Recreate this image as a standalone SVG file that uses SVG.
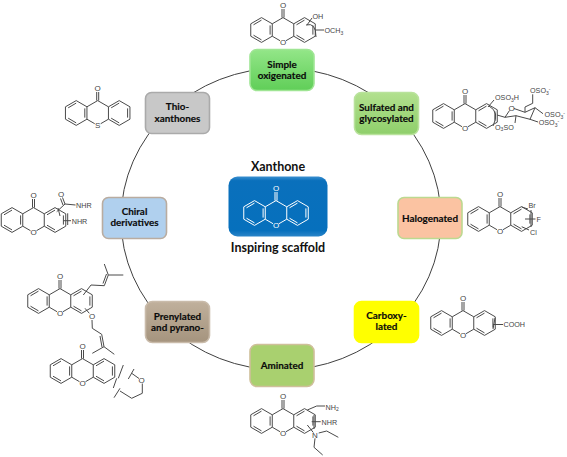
<svg xmlns="http://www.w3.org/2000/svg" width="567" height="457" viewBox="0 0 567 457">
<style>
.lbl{font-family:Lato,"Liberation Sans",sans-serif;font-weight:700;font-size:9.9px;fill:#0a0a0a;stroke:#0a0a0a;stroke-width:.15;text-anchor:middle}
.ttl{font-family:Lato,"Liberation Sans",sans-serif;font-weight:700;font-size:12.5px;fill:#111;text-anchor:middle}
.chem{font-family:"Liberation Sans",Arial,sans-serif;font-size:7.2px;fill:#444}
.atom{font-family:"Liberation Sans",Arial,sans-serif;font-size:8px;fill:#444;text-anchor:middle}
.b{fill:none;stroke:#4a4a4a;stroke-width:1}
.node{stroke-width:1.6}
</style>
<defs>
<linearGradient id="gSimple" x1="0" y1="0" x2="0" y2="1"><stop offset="0" stop-color="#93e688"/><stop offset="1" stop-color="#60ce58"/></linearGradient>
<linearGradient id="gSulf" x1="0" y1="0" x2="0" y2="1"><stop offset="0" stop-color="#b2e08e"/><stop offset="1" stop-color="#8fcf6b"/></linearGradient>
<linearGradient id="gPren" x1="0" y1="0" x2="0" y2="1"><stop offset="0" stop-color="#c0b09c"/><stop offset="1" stop-color="#a5947e"/></linearGradient>
<linearGradient id="gMain" x1="0" y1="0" x2="0" y2="1"><stop offset="0" stop-color="#3a8fd0"/><stop offset=".07" stop-color="#0a70bc"/><stop offset=".9" stop-color="#0670bd"/><stop offset="1" stop-color="#2a84c8"/></linearGradient>
<path id="xan" d="M-21.5-12.4L-10.75-6.2L-10.75 6.2L-21.5 12.4L-32.25 6.2L-32.25-6.2ZM21.5-12.4L10.75-6.2L10.75 6.2L21.5 12.4L32.25 6.2L32.25-6.2ZM-10.75-6.2L0-12.4L10.75-6.2M-10.75 6.2L-3 10.7M10.75 6.2L3 10.7M-1-12.4V-21M1-12.4V-21M-21.5-9.9L-29.5-5.2M-12.9-4.6V4.6M-21.5 9.9L-29.5 5.2M21.5-9.9L13.5-5.2M29.9-4.6V4.6M21.5 9.9L13.5 5.2"/>
</defs>
<g id="connectors"><ellipse cx="281" cy="219" rx="160" ry="151" fill="none" stroke="#404040" stroke-width="1"/></g>

<g id="xanthone-center">
<text class="ttl" x="278" y="171">Xanthone</text>
<rect x="228.500" y="176.500" width="99" height="60" rx="9" fill="url(#gMain)"/>
<use href="#xan" x="276" y="213" style="stroke:#fff;fill:none;stroke-width:1"/>
<text x="276" y="228" text-anchor="middle" font-family="Liberation Sans,sans-serif" font-size="8" fill="#fff">O</text>
<text x="276" y="190.500" text-anchor="middle" font-family="Liberation Sans,sans-serif" font-size="8" fill="#fff">O</text>
<text class="ttl" x="278" y="252">Inspiring scaffold</text>
</g>

<g id="simple">
<rect class="node" x="250" y="49.500" width="64" height="41" rx="7" fill="url(#gSimple)" stroke="#9fe594"/>
<text class="lbl" x="282" y="68">Simple</text><text class="lbl" x="282" y="79">oxigenated</text>
<use href="#xan" class="b" x="283" y="30"/>
<text class="atom" x="283" y="45">O</text><text class="atom" x="283" y="8">O</text>
<path class="b" d="M307 25L312 18M306 25Q316 22 316 37M315 30H324"/>
<text class="chem" x="312.500" y="19">OH</text>
<text class="chem" x="324.500" y="33">OCH<tspan font-size="5" dy="1.500">3</tspan></text>
</g>

<g id="sulfated">
<rect class="node" x="354.500" y="92.500" width="64" height="42" rx="7" fill="url(#gSulf)" stroke="#b9e29c"/>
<text class="lbl" x="386.500" y="111">Sulfated and</text><text class="lbl" x="386.500" y="122">glycosylated</text>
<use href="#xan" class="b" x="465" y="116"/>
<text class="atom" x="465" y="131">O</text><text class="atom" x="465" y="94">O</text>
<path class="b" d="M488 107L494 100M489 106Q500 112 493 126M497 115L505 117.300L509.500 110.500M514 108.500L525 112.300L535 107.700L530 119.300L516 115.700L505 117.300M525 112.300V107L532.700 103.300V94.300M535 107.700L543 113.700M530 119.300L538 122M516 115.700L515 123"/>
<text class="atom" x="511.700" y="110.800">O</text>
<text class="chem" x="495" y="100">OSO<tspan font-size="5" dy="1.500">3</tspan><tspan dy="-1.500">H</tspan></text>
<text class="chem" x="530" y="93">OSO<tspan font-size="5" dy="1.500">3</tspan><tspan font-size="5" dy="-3.500">-</tspan></text>
<text class="chem" x="544.500" y="117">OSO<tspan font-size="5" dy="1.500">3</tspan><tspan font-size="5" dy="-3.500">-</tspan></text>
<text class="chem" x="538.700" y="125">OSO<tspan font-size="5" dy="1.500">3</tspan><tspan font-size="5" dy="-3.500">-</tspan></text>
<text class="chem" x="495" y="129.500">O<tspan font-size="5" dy="1.500">3</tspan><tspan dy="-1.500">SO</tspan></text>
</g>

<g id="halogenated">
<rect class="node" x="398" y="197.500" width="64" height="41" rx="6" fill="#fbc3a2" stroke="#bcd990"/>
<text class="lbl" x="430" y="221.500">Halogenated</text>
<use href="#xan" class="b" x="500" y="219"/>
<text class="atom" x="500" y="234">O</text><text class="atom" x="500" y="197">O</text>
<path class="b" d="M521.700 207L528 209M521.700 226.700L529 230M531 210V227M525 219H535.500"/>
<text class="chem" x="528.500" y="208">Br</text>
<text class="chem" x="536.500" y="221.500">F</text>
<text class="chem" x="530" y="234.500">Cl</text>
</g>

<g id="carboxylated">
<rect class="node" x="354.500" y="301.500" width="64" height="41" rx="7" fill="#ffff00" stroke="#ffff00"/>
<text class="lbl" x="386.500" y="319">Carboxy-</text><text class="lbl" x="386.500" y="330">lated</text>
<use href="#xan" class="b" x="463" y="323"/>
<text class="atom" x="463" y="338">O</text><text class="atom" x="463" y="301">O</text>
<path class="b" d="M495 318L493 329M493 324.500H503"/>
<text class="chem" x="503.500" y="327">COOH</text>
</g>

<g id="aminated">
<rect class="node" x="250" y="344.500" width="64" height="42" rx="7" fill="#a9d06f" stroke="#cfbf9a"/>
<text class="lbl" x="282" y="369">Aminated</text>
<use href="#xan" class="b" x="283" y="421"/>
<text class="atom" x="283" y="436">O</text><text class="atom" x="283" y="399">O</text>
<path class="b" d="M307.300 410L316.700 406H325M311.700 421.700H320.700M314 415V429M307.300 425L313.300 432.500M318.700 433L326.700 431L338.300 437.300M315 438.300L314 447.300L322.700 455"/>
<text class="chem" x="325.500" y="409.500">NH<tspan font-size="5" dy="1.500">2</tspan></text>
<text class="chem" x="321.500" y="424.500">NHR</text>
<text class="atom" x="315" y="438">N</text>
</g>

<g id="prenylated">
<rect class="node" x="145.500" y="301.500" width="64" height="41" rx="7" fill="url(#gPren)" stroke="#c9bbaa"/>
<text class="lbl" x="177.500" y="320">Prenylated</text><text class="lbl" x="177.500" y="331">and pyrano-</text>
<use href="#xan" class="b" x="60" y="301"/>
<text class="atom" x="60" y="316">O</text><text class="atom" x="60" y="279">O</text>
<path class="b" d="M83.300 295L91 285L104.300 285.700L108.300 275L104.300 264M108.300 275H123.300M103 283.500L106.500 274M85 308.300L89.300 313.300M92 320L92.300 328.300L101.700 334.300L104 346.700L114.300 354.300M104 346.700L92.300 353.300M100 336L102 347"/>
<text class="atom" x="92" y="319">O</text>
<use href="#xan" class="b" x="82.500" y="371"/>
<text class="atom" x="82.500" y="386">O</text><text class="atom" x="82.500" y="349">O</text>
<path class="b" d="M123.300 365L118.300 378.300M116.700 378.300L113.300 388M134 369L128.300 379M131.700 373.300L139 378.500M142.300 383.500V393.300L131.700 398.300L120 391M120 388.300L114 397.700"/>
<text class="atom" x="141.700" y="383">O</text>
</g>

<g id="chiral">
<rect class="node" x="102.500" y="197.500" width="64" height="41" rx="6" fill="#b0d0ee" stroke="#b9aca0"/>
<text class="lbl" x="134.500" y="215">Chiral</text><text class="lbl" x="134.500" y="226">derivatives</text>
<use href="#xan" class="b" x="33.500" y="220"/>
<text class="atom" x="33.500" y="235">O</text><text class="atom" x="33.500" y="198">O</text>
<path class="b" d="M56.700 211.700L65 204L62.500 197.500M63 205L60.500 198.500M65 204L75.500 205M63.300 220.700H71M67.700 213.300V225M58 208L60 216"/>
<text class="atom" x="61" y="196.500">O</text>
<text class="chem" x="76" y="208">NHR</text>
<text class="chem" x="71.700" y="223.500">NHR</text>
</g>

<g id="thio">
<rect class="node" x="145.500" y="92.500" width="64" height="41" rx="6" fill="#c8c8c8" stroke="#aaaaaa"/>
<text class="lbl" x="177.500" y="110">Thio-</text><text class="lbl" x="177.500" y="122">xanthones</text>
<use href="#xan" class="b" x="97.700" y="113"/>
<text class="atom" x="97.700" y="128">S</text><text class="atom" x="97.700" y="91">O</text>
</g>
</svg>
